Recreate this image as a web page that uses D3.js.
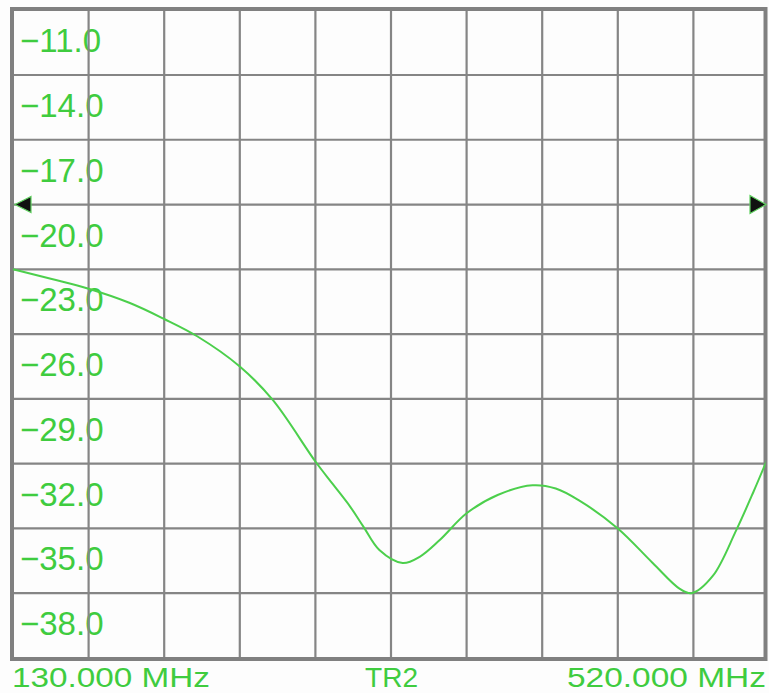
<!DOCTYPE html>
<html>
<head>
<meta charset="utf-8">
<script src="https://cdn.jsdelivr.net/npm/d3@7"></script>
<style>
  body { margin: 0; background: #fdfdfd; }
  svg { display: block; }
</style>
</head>
<body>
<div id="chart"></div>
<script>
// trace data (MHz, dB)
var freqs = [130, 150, 169, 190, 208, 225, 247, 264, 286, 295, 304, 311, 319, 331, 340, 350, 364, 380, 398, 410, 422, 442, 460, 474, 480, 491, 503, 512, 520];
var values = [-23.0, -23.45, -23.9, -24.55, -25.3, -26.1, -27.5, -29.05, -31.9, -32.95, -34.0, -34.95, -36.0, -36.6, -36.3, -35.55, -34.3, -33.45, -33.0, -33.15, -33.7, -35.0, -36.6, -37.8, -38.0, -37.2, -35.1, -33.3, -31.6];

var yTicks = [-11, -14, -17, -20, -23, -26, -29, -32, -35, -38];
var xLabels = ["130.000 MHz", "TR2", "520.000 MHz"];
var refLevel = -20;

var W = 769, H = 693;
var green = "#3fcc3f";

var svg = d3.select("#chart")
    .append("svg")
    .attr("width", W)
    .attr("height", H);

var x = d3.scaleLinear().domain([130, 520]).range([13, 769]);
var y = d3.scaleLinear().domain([-11, -41]).range([10.2, 658]);

// graticule frame box
var box = { left: 12, top: 9, right: 765.5, bottom: 659 };

svg.append("rect")
    .attr("x", 0).attr("y", 0)
    .attr("width", W).attr("height", H)
    .attr("fill", "#fdfdfd");

// y labels sit under each grid line (drawn before the grid so lines cross them)
svg.append("g")
    .selectAll("text")
    .data(yTicks)
    .enter()
    .append("text")
    .attr("x", 20)
    .attr("y", function (d) { return y(d) + 42; })
    .attr("fill", green)
    .style("font-family", "'Liberation Sans', Arial, sans-serif")
    .style("font-size", "33px")
    .text(function (d) { return "\u2212" + Math.abs(d).toFixed(1); });

// grid
var xGrid = d3.range(1, 10).map(function (i) { return 130 + i * 39; });
var yGrid = d3.range(1, 10).map(function (i) { return -11 - i * 3; });

svg.append("g")
    .selectAll("line")
    .data(xGrid)
    .enter()
    .append("line")
    .attr("x1", function (d) { return x(d); })
    .attr("x2", function (d) { return x(d); })
    .attr("y1", box.top)
    .attr("y2", box.bottom)
    .attr("stroke", "#858585")
    .attr("stroke-width", 2.2);

svg.append("g")
    .selectAll("line")
    .data(yGrid)
    .enter()
    .append("line")
    .attr("x1", box.left)
    .attr("x2", box.right)
    .attr("y1", function (d) { return y(d); })
    .attr("y2", function (d) { return y(d); })
    .attr("stroke", "#858585")
    .attr("stroke-width", 2.2);

svg.append("rect")
    .attr("x", box.left)
    .attr("y", box.top)
    .attr("width", box.right - box.left)
    .attr("height", box.bottom - box.top)
    .attr("fill", "none")
    .attr("stroke", "#808080")
    .attr("stroke-width", 4);

// trace, clipped to the frame
svg.append("clipPath")
    .attr("id", "clip")
    .append("rect")
    .attr("x", box.left)
    .attr("y", box.top)
    .attr("width", box.right - box.left)
    .attr("height", box.bottom - box.top);

var data = freqs.map(function (f, i) { return { f: f, v: values[i] }; });

svg.append("path")
    .datum(data)
    .attr("clip-path", "url(#clip)")
    .attr("d", d3.line()
        .x(function (d) { return x(d.f); })
        .y(function (d) { return y(d.v); })
        .curve(d3.curveCatmullRom.alpha(0.5)))
    .attr("fill", "none")
    .attr("stroke", "#4ccf4c")
    .attr("stroke-width", 2);

// reference level arrows
var ry = y(refLevel);
var arrows = [
    [[15, ry], [31, ry - 8], [31, ry + 8]],
    [[766, ry], [750, ry - 9], [750, ry + 9]]
];
svg.append("g")
    .selectAll("path")
    .data(arrows)
    .enter()
    .append("path")
    .attr("d", function (d) { return "M" + d.join("L") + "Z"; })
    .attr("fill", "#111")
    .attr("stroke", "#5fd05f")
    .attr("stroke-width", 1.2);

// bottom annotation
var xText = [
    { t: xLabels[0], x: 12, len: 198 },
    { t: xLabels[1], x: 365, len: 53 },
    { t: xLabels[2], x: 567, len: 199 }
];
svg.append("g")
    .selectAll("text")
    .data(xText)
    .enter()
    .append("text")
    .attr("x", function (d) { return d.x; })
    .attr("y", 687)
    .attr("textLength", function (d) { return d.len; })
    .attr("lengthAdjust", "spacingAndGlyphs")
    .attr("fill", green)
    .style("font-family", "'Liberation Sans', Arial, sans-serif")
    .style("font-size", "28px")
    .text(function (d) { return d.t; });
</script>
</body>
</html>
